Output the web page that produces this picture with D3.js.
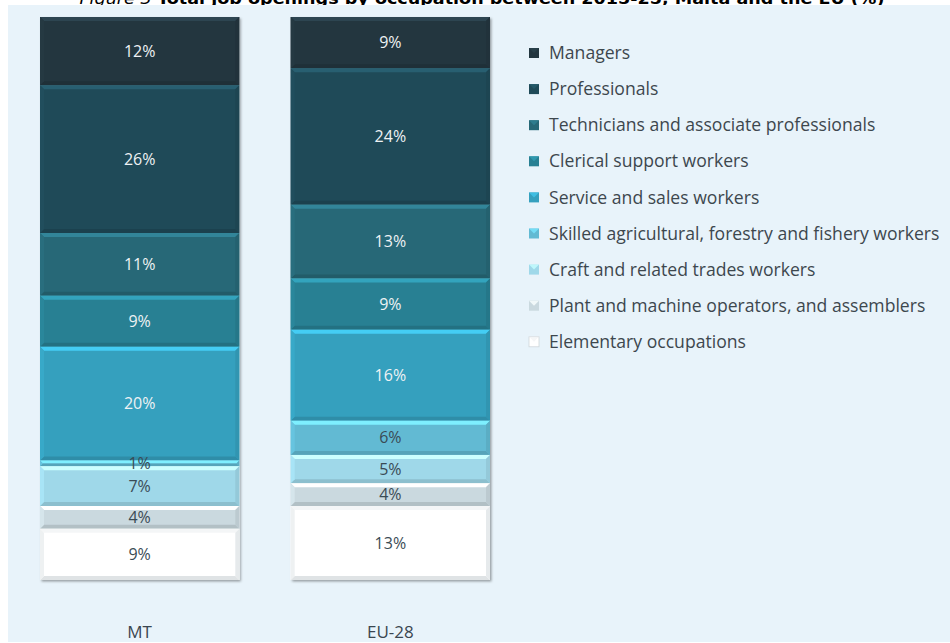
<!DOCTYPE html>
<html lang="en">
<head>
<meta charset="utf-8">
<title>Job openings by occupation</title>
<style>
  body { margin: 0; background: #fff; }
  text { font-family: "Open Sans", Lato, sans-serif; }
</style>
</head>
<body>
<script src="https://cdn.jsdelivr.net/npm/d3@7"></script>
<script>
// data
var countries = ["MT", "EU-28"];
var occupations = [
  "Managers",
  "Professionals",
  "Technicians and associate professionals",
  "Clerical support workers",
  "Service and sales workers",
  "Skilled agricultural, forestry and fishery workers",
  "Craft and related trades workers",
  "Plant and machine operators, and assemblers",
  "Elementary occupations"
];
var mtValues = [12, 26, 11, 9, 20, 1, 7, 4, 9];
var euValues = [9, 24, 13, 9, 16, 6, 5, 4, 13];
var colours = ["#23363f", "#1f4a58", "#276877", "#288093", "#35a0be", "#62bad3", "#9fd8e9", "#cad9df", "#ffffff"];
var darkLabel = [false, false, false, false, false, true, true, true, true];

var width = 950, height = 643;
var svg = d3.select("body").append("svg")
  .attr("width", width)
  .attr("height", height);

// title (top is clipped in the original)
var title = svg.append("text")
  .attr("x", 482).attr("y", 4)
  .attr("text-anchor", "middle")
  .attr("textLength", 805)
  .attr("lengthAdjust", "spacingAndGlyphs")
  .style("font-family", "'DejaVu Sans', Verdana, sans-serif")
  .style("font-size", "15px")
  .attr("fill", "#000");
title.append("tspan").attr("font-style", "italic").text("Figure 3 ");
title.append("tspan").attr("font-weight", "bold")
  .text("Total job openings by occupation between 2015-25, Malta and the EU (%)");

svg.append("rect")
  .attr("x", 8).attr("y", 5)
  .attr("width", width - 8).attr("height", 637)
  .attr("fill", "#e8f3fa");

var defs = svg.append("defs");
var shadow = defs.append("filter").attr("id", "shadow")
  .attr("x", "-5%").attr("y", "-5%").attr("width", "115%").attr("height", "115%");
shadow.append("feDropShadow")
  .attr("dx", 1.5).attr("dy", 1.5).attr("stdDeviation", 1.2)
  .attr("flood-color", "#000").attr("flood-opacity", 0.35);

// table for the stack
var rows = countries.map(function(c, i) {
  var vals = i === 0 ? mtValues : euValues;
  var r = { country: c };
  occupations.forEach(function(o, j) { r[o] = vals[j]; });
  return r;
});

var stack = d3.stack()
  .keys(occupations)
  .offset(d3.stackOffsetExpand);
var series = stack(rows);

var x = d3.scaleBand()
  .domain(countries)
  .range([40, 490])
  .paddingInner(0.205)
  .paddingOuter(0);

var y = d3.scaleLinear()
  .domain([0, 1])
  .range([17, 580]);

var bev = 4;

var barG = svg.append("g");
countries.forEach(function(c) {
  barG.append("rect")
    .attr("x", x(c)).attr("y", y(0))
    .attr("width", x.bandwidth()).attr("height", y(1) - y(0))
    .attr("fill", "#fff")
    .attr("filter", "url(#shadow)");
});

series.forEach(function(s, si) {
  var col = d3.color(colours[si]);
  var g = barG.append("g");
  s.forEach(function(d) {
    var c = d.data.country;
    var x0 = x(c), x1 = x(c) + x.bandwidth();
    var y0 = y(d[0]), y1 = y(d[1]);
    var h = y1 - y0;
    var b = Math.min(bev, h / 2);
    g.append("rect")
      .attr("x", x0).attr("y", y0)
      .attr("width", x1 - x0).attr("height", h)
      .attr("fill", col);
    // bevel: top light, bottom dark, sides
    g.append("path")
      .attr("d", "M" + x0 + "," + y0 + "L" + x1 + "," + y0 + "L" + (x1 - b) + "," + (y0 + b) + "L" + (x0 + b) + "," + (y0 + b) + "Z")
      .attr("fill", si === 8 ? "#f4f6f7" : col.brighter(0.7));
    g.append("path")
      .attr("d", "M" + x0 + "," + y1 + "L" + x1 + "," + y1 + "L" + (x1 - b) + "," + (y1 - b) + "L" + (x0 + b) + "," + (y1 - b) + "Z")
      .attr("fill", si === 8 ? "#dfe3e5" : col.darker(0.35));
    g.append("path")
      .attr("d", "M" + x0 + "," + y0 + "L" + (x0 + b) + "," + (y0 + b) + "L" + (x0 + b) + "," + (y1 - b) + "L" + x0 + "," + y1 + "Z")
      .attr("fill", si === 8 ? "#eef1f2" : col.brighter(0.15));
    g.append("path")
      .attr("d", "M" + x1 + "," + y0 + "L" + (x1 - b) + "," + (y0 + b) + "L" + (x1 - b) + "," + (y1 - b) + "L" + x1 + "," + y1 + "Z")
      .attr("fill", si === 8 ? "#e6eaec" : col.darker(0.2));
  });
});

// value labels on top of all segments
var labelG = svg.append("g");
series.forEach(function(s, si) {
  s.forEach(function(d) {
    var c = d.data.country;
    labelG.append("text")
      .attr("x", x(c) + x.bandwidth() / 2)
      .attr("y", (y(d[0]) + y(d[1])) / 2)
      .attr("dy", "0.35em")
      .attr("text-anchor", "middle")
      .style("font-size", "16px")
      .attr("fill", darkLabel[si] ? "#3a4b55" : "#eef2f4")
      .text(d.data[s.key] + "%");
  });
});

// category labels
var xAxis = svg.append("g")
  .attr("transform", "translate(0,632)")
  .call(d3.axisBottom(x).tickSize(0).tickPadding(0));
xAxis.select(".domain").remove();
xAxis.selectAll("text")
  .attr("dy", "0.35em")
  .style("font-family", "'Open Sans', sans-serif")
  .style("font-size", "17px")
  .attr("fill", "#3a4650");

// legend
var legend = svg.append("g")
  .attr("transform", "translate(529,53)");
occupations.forEach(function(o, i) {
  var row = legend.append("g").attr("transform", "translate(0," + (i * 36.1) + ")");
  var col = d3.color(colours[i]);
  row.append("rect")
    .attr("x", 0).attr("y", -5)
    .attr("width", 10).attr("height", 10)
    .attr("fill", col)
    .attr("stroke", i === 8 ? "#cfd6da" : "none")
    .attr("stroke-width", 0.8);
  row.append("path")
    .attr("d", "M0,-5L10,-5L5,0Z")
    .attr("fill", i === 8 ? "#f2f4f5" : col.brighter(0.6))
    .attr("opacity", 0.8);
  row.append("text")
    .attr("x", 20).attr("y", 0)
    .attr("dy", "0.35em")
    .style("font-size", "17.6px")
    .attr("fill", "#3d474e")
    .text(o);
});
</script>
</body>
</html>
